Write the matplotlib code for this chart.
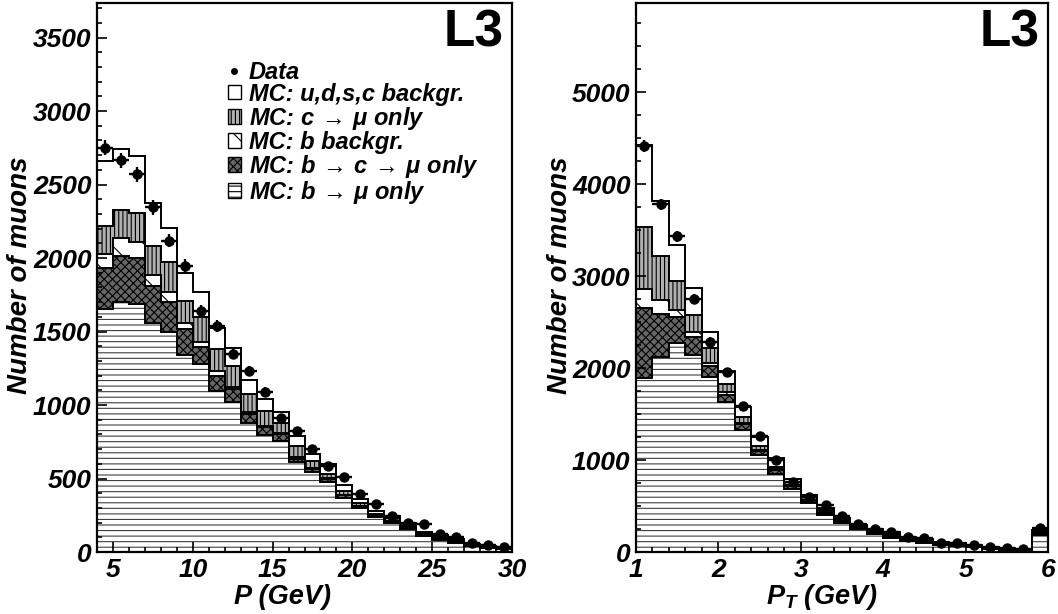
import numpy as np
import matplotlib
matplotlib.use("Agg")
import matplotlib.pyplot as plt
from matplotlib.patches import Patch
from matplotlib.lines import Line2D
from matplotlib.ticker import MultipleLocator

# ---------------------------------------------------------------------------
# data
# ---------------------------------------------------------------------------

# momentum P, 1 GeV bins from 4 to 30 GeV
p_edges = np.arange(4, 31, 1)
p_data = [2750, 2666, 2570, 2344, 2119, 1948, 1640, 1538, 1347, 1230, 1087, 909, 820,
          704, 588, 513, 396, 328, 246, 198, 191, 123, 103, 62, 48, 34]
p_bmu = [1654, 1702, 1688, 1558, 1497, 1340, 1278, 1094, 1018, 875, 793, 752, 615,
         547, 478, 369, 301, 239, 198, 157, 109, 82, 62, 41, 27, 20]
p_bcmu = [280, 314, 315, 253, 205, 177, 116, 102, 89, 61, 55, 48, 20,
          18, 22, 16, 9, 7, 7, 8, 6, 8, 6, 3, 3, 3]
p_bbkg = [96, 117, 109, 76, 68, 41, 35, 34, 14, 14, 6, 7, 8,
          9, 6, 5, 4, 4, 5, 3, 3, 2, 2, 2, 2, 2]
p_cmu = [185, 191, 191, 198, 205, 151, 171, 151, 144, 123, 103, 68, 75,
         48, 27, 27, 21, 10, 22, 17, 12, 13, 10, 4, 4, 5]
p_udsc = [444, 417, 390, 287, 226, 191, 170, 143, 123, 96, 82, 75, 68,
          48, 68, 41, 27, 20, 14, 13, 7, 11, 9, 5, 5, 4]

# transverse momentum PT, 0.2 GeV bins from 1 to 6 GeV (last bin = overflow)
pt_edges = np.linspace(1, 6, 26)
pt_data = [4412, 3780, 3431, 2756, 2288, 1955, 1590, 1264, 1002, 763, 599, 512, 392,
           305, 250, 218, 163, 153, 98, 98, 76, 58, 40, 33, 261]
pt_bmu = [1895, 2124, 2277, 2146, 1906, 1634, 1329, 1057, 850, 686, 534, 403, 316,
          250, 196, 153, 120, 94, 73, 70, 51, 36, 25, 18, 190]
pt_bcmu = [763, 469, 283, 196, 120, 76, 65, 43, 45, 34, 26, 17, 14,
           10, 14, 12, 10, 11, 7, 5, 4, 4, 2, 3, 10]
pt_bbkg = [207, 152, 76, 55, 33, 33, 11, 11, 9, 10, 10, 10, 5,
           5, 5, 5, 5, 5, 5, 5, 3, 2, 2, 2, 5]
pt_cmu = [664, 469, 316, 185, 163, 87, 66, 44, 22, 35, 25, 25, 15,
          15, 15, 25, 15, 15, 13, 8, 7, 6, 3, 5, 10]
pt_udsc = [894, 599, 381, 294, 175, 142, 109, 98, 98, 30, 26, 24, 20,
           14, 17, 19, 13, 16, 11, 10, 8, 6, 4, 5, 25]

legend_labels = [
    "Data",
    "MC: u,d,s,c backgr.",
    r"MC: c$\,\rightarrow\,\mathrm{\mu}$ only",
    "MC: b backgr.",
    r"MC: b$\,\rightarrow\,$c$\,\rightarrow\,\mathrm{\mu}$ only",
    r"MC: b$\,\rightarrow\,\mathrm{\mu}$ only",
]

# fill styles, bottom of the stack first: (face, hatch colour, hatch)
STYLES = [
    ("white", "#404040", "---"),     # b -> mu
    ("#666666", "black", "xxxx"),    # b -> c -> mu
    ("white", "black", "\\"),        # b backgr.
    ("#b0b0b0", "black", "||||"),    # c -> mu
    ("white", "black", None),        # u,d,s,c
]

plt.rcParams["font.family"] = ["Liberation Sans", "DejaVu Sans"]
plt.rcParams["font.weight"] = "bold"
plt.rcParams["font.style"] = "italic"
plt.rcParams["mathtext.fontset"] = "custom"
plt.rcParams["mathtext.rm"] = "Liberation Sans"
plt.rcParams["mathtext.it"] = "Liberation Sans:bold:italic"
plt.rcParams["mathtext.bf"] = "Liberation Sans:bold:italic"
plt.rcParams["hatch.linewidth"] = 0.8
plt.rcParams["axes.linewidth"] = 1.6


def draw_panel(ax, edges, data, comps):
    """Stacked MC histogram (ROOT-like step outlines) plus data points."""
    edges = np.asarray(edges, dtype=float)
    widths = np.diff(edges)
    bottom = np.zeros(len(widths))
    for vals, (face, hcol, hatch) in zip(comps, STYLES):
        top = bottom + np.asarray(vals, dtype=float)
        ax.stairs(top, edges, baseline=bottom, fill=True, facecolor=face,
                  edgecolor=hcol, hatch=hatch, linewidth=0)
        ax.stairs(top, edges, baseline=0, color="black", linewidth=1.4, zorder=3)
        bottom = top

    data = np.asarray(data, dtype=float)
    centers = 0.5 * (edges[:-1] + edges[1:])
    ax.errorbar(centers, data, xerr=widths / 2, yerr=np.sqrt(data), fmt="o",
                color="black", ms=6.5, elinewidth=1.7, capsize=0, zorder=5)

    ax.tick_params(which="both", direction="in", top=False, right=False,
                   labelsize=19, width=1.2)
    ax.tick_params(which="major", length=7, pad=4)
    ax.tick_params(which="minor", length=3.5)
    ax.text(0.98, 0.99, "L3", transform=ax.transAxes, ha="right", va="top",
            fontsize=37, fontweight="heavy", fontstyle="normal")


fig = plt.figure(figsize=(10.58, 6.14), dpi=100)

# left: momentum
ax1 = fig.add_axes([97 / 1058, 1 - 552 / 614, 415 / 1058, 549 / 614])
draw_panel(ax1, p_edges, p_data, [p_bmu, p_bcmu, p_bbkg, p_cmu, p_udsc])
ax1.set_xlim(4, 30)
ax1.set_ylim(0, 3735)
ax1.xaxis.set_major_locator(MultipleLocator(5))
ax1.xaxis.set_minor_locator(MultipleLocator(1))
ax1.yaxis.set_major_locator(MultipleLocator(500))
ax1.yaxis.set_minor_locator(MultipleLocator(100))

# right: transverse momentum
ax2 = fig.add_axes([636 / 1058, 1 - 552 / 614, 412 / 1058, 549 / 614])
draw_panel(ax2, pt_edges, pt_data, [pt_bmu, pt_bcmu, pt_bbkg, pt_cmu, pt_udsc])
ax2.set_xlim(1, 6)
ax2.set_ylim(0, 5970)
ax2.xaxis.set_major_locator(MultipleLocator(1))
ax2.xaxis.set_minor_locator(MultipleLocator(0.2))
ax2.yaxis.set_major_locator(MultipleLocator(1000))
ax2.yaxis.set_minor_locator(MultipleLocator(250))

# axis titles
fig.text(282 / 1058, 1 - 597 / 614, "P (GeV)", ha="center", va="center", fontsize=19.5)
fig.text(822 / 1058, 1 - 597 / 614, "$P_T$ (GeV)", ha="center", va="center", fontsize=19.5)
fig.text(20 / 1058, 1 - 275 / 614, "Number of muons", ha="center", va="center",
         rotation=90, fontsize=20)
fig.text(560 / 1058, 1 - 275 / 614, "Number of muons", ha="center", va="center",
         rotation=90, fontsize=20)

# legend
handles = [Line2D([], [], marker="o", color="black", ls="none", ms=4)]
for face, hcol, hatch in reversed(STYLES):
    handles.append(Patch(facecolor=face, edgecolor="black", hatch=hatch, linewidth=1))
ax1.legend(handles, legend_labels, loc="upper left", bbox_to_anchor=(0.315, 0.895),
           frameon=False, fontsize=17, handlelength=0.55, handleheight=0.55,
           handletextpad=0.35, labelspacing=-0.04, borderpad=0, borderaxespad=0)

fig.savefig("out.png", dpi=100)
